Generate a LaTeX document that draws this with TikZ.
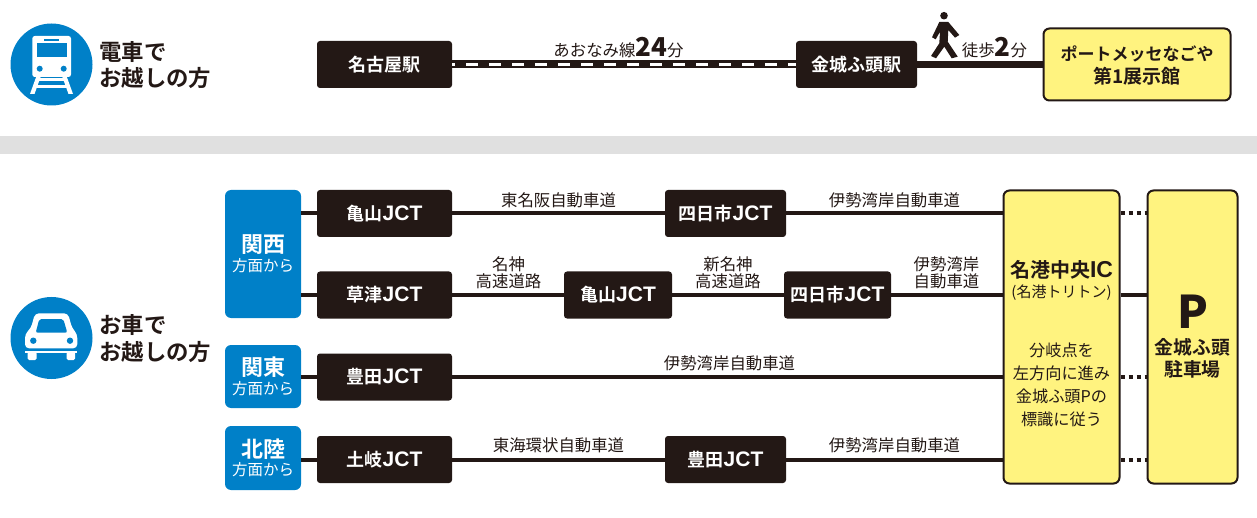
\documentclass[tikz,border=0pt]{standalone}
\usepackage{fontspec}
\setmainfont{Noto Sans CJK JP}[BoldFont=Noto Sans CJK JP Bold]
\newfontfamily\heavyfont{Noto Sans CJK JP Black}
\newfontfamily\latinfont{Liberation Sans}[BoldFont=Liberation Sans Bold]
\usetikzlibrary{calc}
\definecolor{inkblack}{HTML}{231815}
\definecolor{signblue}{HTML}{0080C8}
\definecolor{signyellow}{HTML}{FFF37F}
\definecolor{bandgrey}{HTML}{E0E0E0}
\newcommand{\fs}[1]{\fontsize{#1}{#1}\selectfont}
\newcommand{\jct}{{\latinfont\bfseries\fs{21}JCT}}
\tikzset{
    my-station/.style={
        fill=inkblack, text=white, rounded corners=3pt, minimum height=47pt, inner sep=0pt, font=\fs{18}\bfseries
    },
    my-goal/.style={
        draw=inkblack, line width=2pt, fill=signyellow, text=inkblack, rounded corners=6pt, inner sep=0pt, align=center
    },
    my-region/.style={
        fill=signblue, text=white, rounded corners=6pt, minimum width=76pt, inner sep=0pt, align=center
    },
    my-route/.style={
        text=inkblack, font=\fs{16.4}, align=center, inner sep=0pt
    },
    my-head/.style={
        text=inkblack, font=\fs{22.4}\bfseries, align=left, inner sep=0pt, anchor=west
    },
    my-badge/.style={
        fill=signblue, shape=circle, minimum size=82pt, inner sep=0pt
    },
    my-wire/.style={
        draw=inkblack, line width=4pt
    },
    my-dots/.style={
        draw=inkblack, line width=4pt, dash pattern=on 4pt off 4pt
    },
}
\begin{document}
\begin{tikzpicture}[x=1pt, y=1pt]

        \useasboundingbox (0, 0) rectangle (1257, -518);

        % TRAIN ROW ------------------------------------------------------------------------------------

        \node[my-badge] (TRAINICON) at (51.5, -64.5) {};
        \node[my-head]  (TRAINHEAD) at (99, -65) {電車で\\[4pt]お越しの方};

        % TRAIN ICON
        \fill[white, rounded corners=2.5pt] (32.3, -77) rectangle (71, -36);
        \fill[signblue] (36.7, -43.3) rectangle (66.7, -57.3);
        \fill[signblue] (44.3, -38.7) rectangle (59, -41);
        \fill[signblue] (39.7, -68.7) circle (3);
        \fill[signblue] (63.7, -68.7) circle (3);
        \fill[white] (36.5, -76) -- (41, -76) -- (34.5, -94) -- (30, -94) -- cycle;
        \fill[white] (66.5, -76) -- (62, -76) -- (68.5, -94) -- (73, -94) -- cycle;
        \fill[white] (37, -78.5) rectangle (66, -81);
        \fill[white] (35, -85.5) rectangle (68, -88.5);

        \node[my-station, minimum width=135pt] (NAGOYA) at (384.5, -64.5)             {名古屋駅};
        \node[my-station, minimum width=121pt] (KINJO)  at ($(NAGOYA) + (472, 0)$)    {金城ふ頭駅};
        \node[my-goal, minimum width=187pt, minimum height=72pt] (MESSE) at (1137, -64.5) {};

        % RAIL AND WALK
        \draw[draw=inkblack, line width=8pt] (NAGOYA) -- (KINJO);
        \draw[draw=white, line width=3.5pt, dash pattern=on 12pt off 11pt, dash phase=9pt] (NAGOYA.east) -- (KINJO.west);
        \draw[draw=inkblack, line width=7pt] (KINJO) -- (MESSE);
        \node[my-route] (RAILTIME) at ($(NAGOYA) + (234, 17)$) {あおなみ線{\heavyfont\fs{26}24}分};
        \node[my-route] (WALKTIME) at ($(KINJO) + (138, 17)$)  {徒歩{\heavyfont\fs{26}2}分};
        \node[my-route, font=\fs{17}\bfseries]  (MESSEA) at (1137, -54) {ポートメッセなごや};
        \node[my-route, font=\fs{19}\bfseries]  (MESSEB) at (1137, -76) {第1展示館};

        % WALKER
        \fill[inkblack] (944, -15.7) circle (3.8);
        \fill[inkblack] (939.3, -22) -- (948.3, -22) -- (959.3, -35) -- (955, -37.7) -- (948.3, -30) -- (947.7, -41.7)
            -- (957.7, -56.7) -- (951.7, -58.3) -- (944.3, -46.7) -- (936, -58.3) -- (931, -56) -- (939.3, -43.3)
            -- (940, -31.7) -- (935.7, -39.3) -- (932, -37.3) -- cycle;

        % GREY BAND
        \fill[bandgrey] (0, -136) rectangle (1257, -154);

        % CAR ROWS -------------------------------------------------------------------------------------

        \node[my-badge] (CARICON) at (51.5, -338) {};
        \node[my-head]  (CARHEAD) at (99, -338.5) {お車で\\[4pt]お越しの方};

        % CAR ICON
        \fill[white, rounded corners=4pt] (35, -313.3) -- (68, -313.3) -- (72, -328) -- (77.3, -334) -- (77.3, -348.3)
            -- (25, -348.3) -- (25, -334) -- (31, -328) -- cycle;
        \fill[signblue, rounded corners=2pt] (39.3, -319) -- (63.3, -319) -- (67.3, -332.7) -- (35.7, -332.7) -- cycle;
        \fill[signblue] (33.3, -340.7) circle (3.2);
        \fill[signblue] (70, -340.7) circle (3.2);
        \fill[white] (25, -350.5) rectangle (77.3, -353);
        \fill[white, rounded corners=1.5pt] (27.7, -352) rectangle (36.7, -360);
        \fill[white, rounded corners=1.5pt] (66.7, -352) rectangle (75, -360);

        % REGIONS
        \node[my-region, minimum height=128pt] (KANSAI)   at (263, -254)   {\fs{22}\bfseries 関西\\[2.5pt]\fs{15.5}方面から};
        \node[my-region, minimum height=63pt]  (KANTO)    at (263, -376.5) {\fs{22}\bfseries 関東\\[2.5pt]\fs{15.5}方面から};
        \node[my-region, minimum height=64pt]  (HOKURIKU) at (263, -458)   {\fs{22}\bfseries 北陸\\[2.5pt]\fs{15.5}方面から};

        % GOALS
        \node[my-goal, minimum width=116pt, minimum height=293pt] (MEIKO) at (1061.5, -337) {};
        \node[my-goal, minimum width=90pt,  minimum height=293pt] (PARK)  at (1192.5, -337) {};

        % ROW 1
        \node[my-station, minimum width=135pt] (KAMEYAMAA)  at (384.5, -213.5)            {亀山\jct};
        \node[my-station, minimum width=121pt] (YOKKAICHIA) at ($(KAMEYAMAA) + (341, 0)$) {四日市\jct};
        \draw[my-wire] (KANSAI.east |- KAMEYAMAA) -- (KAMEYAMAA);
        \draw[my-wire] (KAMEYAMAA) -- (YOKKAICHIA);
        \draw[my-wire] (YOKKAICHIA) -- (MEIKO.west |- YOKKAICHIA);
        \node[my-route] (ROUTEA1) at ($(KAMEYAMAA) + (174, 13)$)  {東名阪自動車道};
        \node[my-route] (ROUTEA2) at ($(YOKKAICHIA) + (169, 13)$) {伊勢湾岸自動車道};

        % ROW 2
        \node[my-station, minimum width=135pt] (KUSATSU)    at (384.5, -295)              {草津\jct};
        \node[my-station, minimum width=108pt] (KAMEYAMAB)  at ($(KUSATSU) + (233.5, 0)$) {亀山\jct};
        \node[my-station, minimum width=107pt] (YOKKAICHIB) at ($(KUSATSU) + (453, 0)$)   {四日市\jct};
        \draw[my-wire] (KANSAI.east |- KUSATSU) -- (KUSATSU);
        \draw[my-wire] (KUSATSU) -- (KAMEYAMAB);
        \draw[my-wire] (KAMEYAMAB) -- (YOKKAICHIB);
        \draw[my-wire] (YOKKAICHIB) -- (MEIKO.west |- YOKKAICHIB);
        \node[my-route] (ROUTEB1) at ($(KUSATSU) + (124, 22)$)    {名神\\[1pt]高速道路};
        \node[my-route] (ROUTEB2) at ($(KAMEYAMAB) + (110, 22)$)  {新名神\\[1pt]高速道路};
        \node[my-route] (ROUTEB3) at ($(YOKKAICHIB) + (109, 22)$) {伊勢湾岸\\[1pt]自動車道};

        % ROW 3
        \node[my-station, minimum width=135pt] (TOYOTAA) at (384.5, -377) {豊田\jct};
        \draw[my-wire] (KANTO.east |- TOYOTAA) -- (TOYOTAA);
        \draw[my-wire] (TOYOTAA) -- (MEIKO.west |- TOYOTAA);
        \node[my-route] (ROUTEC1) at ($(TOYOTAA) + (345, 14)$) {伊勢湾岸自動車道};

        % ROW 4
        \node[my-station, minimum width=135pt] (TOKI)    at (384.5, -459.5)       {土岐\jct};
        \node[my-station, minimum width=121pt] (TOYOTAB) at ($(TOKI) + (341, 0)$) {豊田\jct};
        \draw[my-wire] (HOKURIKU.east |- TOKI) -- (TOKI);
        \draw[my-wire] (TOKI) -- (TOYOTAB);
        \draw[my-wire] (TOYOTAB) -- (MEIKO.west |- TOYOTAB);
        \node[my-route] (ROUTED1) at ($(TOKI) + (174, 14)$)    {東海環状自動車道};
        \node[my-route] (ROUTED2) at ($(TOYOTAB) + (169, 14)$) {伊勢湾岸自動車道};

        % MEIKO TO PARKING
        \draw[my-dots] (MEIKO.east |- KAMEYAMAA) -- (PARK.west |- KAMEYAMAA);
        \draw[my-wire] (MEIKO.east |- KUSATSU)   -- (PARK.west |- KUSATSU);
        \draw[my-dots] (MEIKO.east |- TOYOTAA)   -- (PARK.west |- TOYOTAA);
        \draw[my-dots] (MEIKO.east |- TOKI)      -- (PARK.west |- TOKI);

        % GOAL TEXTS
        \node[my-route, font=\fs{20}\bfseries] (MEIKOIC)   at (1061.5, -270) {名港中央{\latinfont\bfseries\fs{23}IC}};
        \node[my-route, font=\fs{15}]          (MEIKOSUB)  at (1061.5, -293) {(名港トリトン)};
        \node[my-route, font=\fs{16.2}]        (MEIKONOTE) at (1061.5, -385) {分岐点を\\[6.6pt]左方向に進み\\[6.6pt]金城ふ頭Pの\\[6.6pt]標識に従う};
        \node[my-route, font=\heavyfont\fs{45}] (PMARK)    at (1193, -311.5) {P};
        \node[my-route, font=\fs{18.8}\bfseries] (PNAME)   at (1192.5, -358) {金城ふ頭\\[3pt]駐車場};

    \end{tikzpicture}
\end{document}
